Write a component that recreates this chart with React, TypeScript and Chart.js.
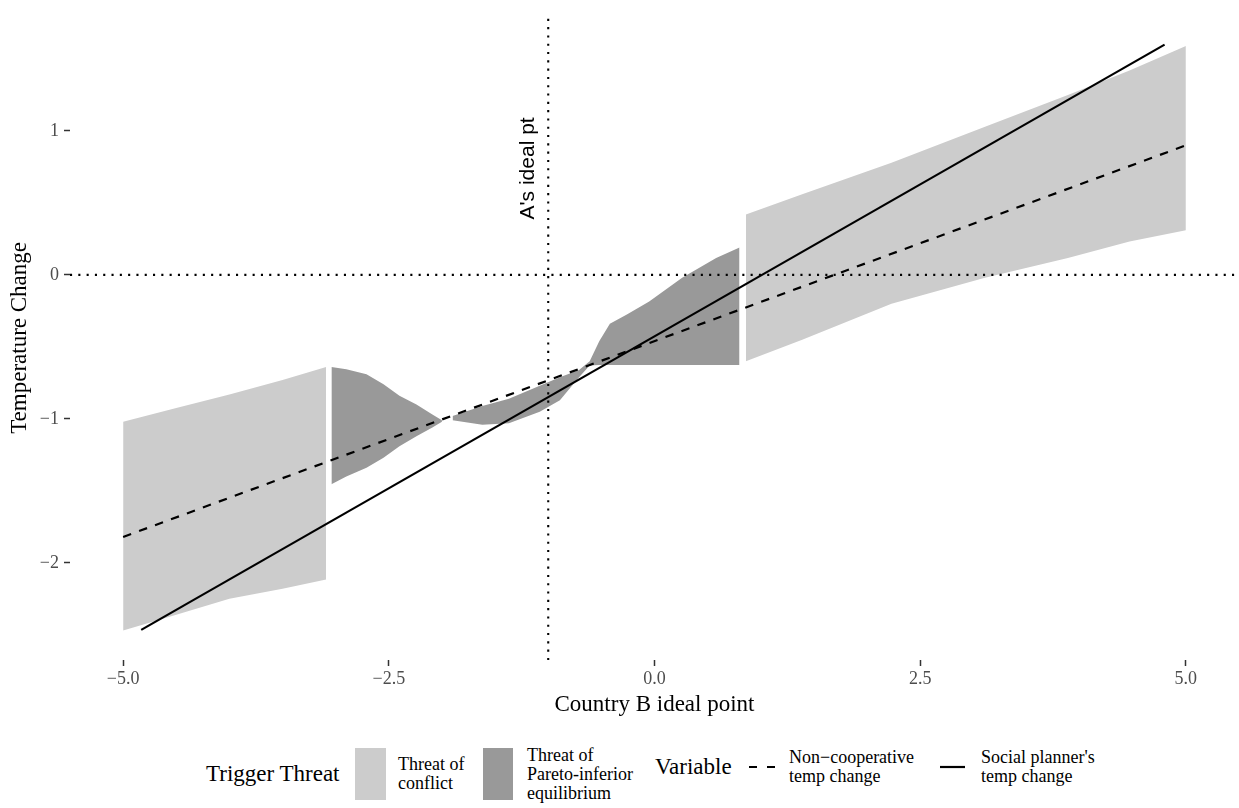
import React, { useEffect, useRef } from 'react';
import { Chart, registerables } from 'chart.js';

Chart.register(...registerables);

// ---- axis ranges and ticks ----
const xMin = -5.5;
const xMax = 5.5;
const yMin = -2.675;
const yMax = 1.8;
const xTicks = [-5, -2.5, 0, 2.5, 5];
const xTickLabels = ['\u22125.0', '\u22122.5', '0.0', '2.5', '5.0'];
const yTicks = [-2, -1, 0, 1];
const yTickLabels = ['\u22122', '\u22121', '0', '1'];

// ---- ribbons: Threat of conflict (left) ----
const conflictLeftX = [-5.0, -4.5, -4.0, -3.5, -3.09];
const conflictLeftHigh = [-1.02, -0.925, -0.83, -0.73, -0.64];
const conflictLeftLow = [-2.47, -2.36, -2.25, -2.18, -2.115];

// ---- ribbons: Threat of Pareto-inferior equilibrium (left piece) ----
const paretoLeftX = [-3.04, -2.9, -2.71, -2.55, -2.4, -2.24, -2.09, -2.0];
const paretoLeftHigh = [-0.64, -0.655, -0.69, -0.76, -0.84, -0.9, -0.97, -1.01];
const paretoLeftLow = [-1.455, -1.4, -1.34, -1.27, -1.19, -1.12, -1.06, -1.02];

// ---- ribbons: Threat of Pareto-inferior equilibrium (middle piece) ----
const paretoMidX = [-1.9, -1.62, -1.37, -1.08, -0.89, -0.71, -0.61, -0.52, -0.42, -0.26, -0.05, 0.26, 0.58, 0.8];
const paretoMidHigh = [-0.98, -0.91, -0.86, -0.77, -0.71, -0.66, -0.6, -0.46, -0.34, -0.275, -0.185, -0.02, 0.117, 0.19];
const paretoMidLow = [-1.01, -1.04, -1.03, -0.95, -0.87, -0.71, -0.63, -0.625, -0.625, -0.625, -0.625, -0.625, -0.625, -0.625];

// ---- ribbons: Threat of conflict (right) ----
const conflictRightX = [0.86, 1.39, 2.23, 3.11, 3.89, 4.47, 5.0];
const conflictRightHigh = [0.42, 0.56, 0.78, 1.03, 1.25, 1.42, 1.59];
const conflictRightLow = [-0.6, -0.45, -0.2, -0.02, 0.117, 0.233, 0.31];

// ---- lines ----
const nonCoopX = [-5, 5];
const nonCoopY = [-1.82, 0.9];
const plannerX = [-4.83, 4.8];
const plannerY = [-2.466, 1.6];

// ---- reference lines / annotation ----
const idealPointA = -1;
const zeroLevel = 0;
const annotText = "A's ideal pt";
const annotX = -1.19;
const annotY = 0.74;

const LIGHT = '#CCCCCC';
const DARK = '#999999';
const SERIF = "'Liberation Serif', 'Times New Roman', serif";
const SANS = "'Liberation Sans', Arial, sans-serif";

const toPts = (xs: number[], ys: number[]) => xs.map((x, i) => ({ x, y: ys[i] }));

const annotationPlugin = {
  id: 'annotText',
  afterDatasetsDraw(chart: any) {
    const { ctx, scales } = chart;
    ctx.save();
    ctx.translate(scales.x.getPixelForValue(annotX), scales.y.getPixelForValue(annotY));
    ctx.rotate(-Math.PI / 2);
    ctx.font = `21px ${SANS}`;
    ctx.fillStyle = '#000';
    ctx.textAlign = 'center';
    ctx.textBaseline = 'middle';
    ctx.fillText(annotText, 0, 0);
    ctx.restore();
  },
};

function Txt(props: { left: number; top: number; height: number; size: number; lh: number; lines: string[] }) {
  return (
    <div
      style={{
        position: 'absolute',
        left: props.left,
        top: props.top,
        height: props.height,
        display: 'flex',
        alignItems: 'center',
        fontFamily: SERIF,
        fontSize: props.size,
        lineHeight: `${props.lh}px`,
        color: '#000',
        whiteSpace: 'nowrap',
      }}
    >
      <div>
        {props.lines.map((l, i) => (
          <div key={i}>{l}</div>
        ))}
      </div>
    </div>
  );
}

export default function App() {
  const ref = useRef<HTMLCanvasElement>(null);

  useEffect(() => {
    if (!ref.current) return;
    const datasets: any[] = [];
    const lineBase = { pointRadius: 0, fill: false, tension: 0, borderColor: '#000000' };
    datasets.push({ ...lineBase, label: "Social planner's temp change", data: toPts(plannerX, plannerY), borderWidth: 2.2, order: 0 });
    datasets.push({ ...lineBase, label: 'Non-cooperative temp change', data: toPts(nonCoopX, nonCoopY), borderWidth: 2.2, borderDash: [8.5, 8.5], order: 0 });
    datasets.push({ ...lineBase, label: 'zero', data: [{ x: xMin, y: zeroLevel }, { x: xMax, y: zeroLevel }], borderWidth: 2.1, borderDash: [2.1, 6.2], order: 0 });
    datasets.push({ ...lineBase, label: 'ideal', data: [{ x: idealPointA, y: yMin }, { x: idealPointA, y: yMax }], borderWidth: 2.1, borderDash: [2.1, 6.2], order: 0 });

    const ribbons = [
      { x: conflictLeftX, hi: conflictLeftHigh, lo: conflictLeftLow, color: LIGHT },
      { x: paretoLeftX, hi: paretoLeftHigh, lo: paretoLeftLow, color: DARK },
      { x: paretoMidX, hi: paretoMidHigh, lo: paretoMidLow, color: DARK },
      { x: conflictRightX, hi: conflictRightHigh, lo: conflictRightLow, color: LIGHT },
    ];
    ribbons.forEach((r) => {
      const loIndex = datasets.length;
      datasets.push({ data: toPts(r.x, r.lo), borderColor: 'rgba(0,0,0,0)', borderWidth: 0, pointRadius: 0, fill: false, order: 1 });
      datasets.push({ data: toPts(r.x, r.hi), borderColor: 'rgba(0,0,0,0)', borderWidth: 0, pointRadius: 0, fill: loIndex, backgroundColor: r.color, order: 1 });
    });

    const chart = new Chart(ref.current, {
      type: 'line',
      data: { datasets },
      plugins: [annotationPlugin],
      options: {
        animation: false,
        responsive: false,
        maintainAspectRatio: false,
        devicePixelRatio: 1,
        layout: { padding: { top: 8, left: 0, right: 0, bottom: 0 } },
        plugins: {
          legend: { display: false },
          tooltip: { enabled: false },
          filler: { propagate: false },
        },
        scales: {
          x: {
            type: 'linear',
            min: xMin,
            max: xMax,
            afterBuildTicks: (s: any) => {
              s.ticks = xTicks.map((v) => ({ value: v }));
            },
            afterFit: (s: any) => {
              s.height = 70;
            },
            ticks: {
              callback: (_v: any, i: number) => xTickLabels[i],
              font: { family: SERIF, size: 18 },
              color: '#4D4D4D',
              padding: 2,
              maxRotation: 0,
              autoSkip: false,
            },
            grid: { drawOnChartArea: false, drawTicks: true, tickLength: 6, tickColor: '#333333', tickWidth: 1.5 },
            border: { display: false },
            title: {
              display: true,
              text: 'Country B ideal point',
              font: { family: SERIF, size: 23 },
              color: '#000',
              padding: { top: 0, bottom: 11 },
            },
          },
          y: {
            type: 'linear',
            min: yMin,
            max: yMax,
            afterBuildTicks: (s: any) => {
              s.ticks = yTicks.map((v) => ({ value: v }));
            },
            afterFit: (s: any) => {
              s.width = 70;
            },
            ticks: {
              callback: (_v: any, i: number) => yTickLabels[i],
              font: { family: SERIF, size: 18 },
              color: '#4D4D4D',
              padding: 5,
              autoSkip: false,
            },
            grid: { drawOnChartArea: false, drawTicks: true, tickLength: 6, tickColor: '#333333', tickWidth: 1.5 },
            border: { display: false },
            title: {
              display: true,
              text: 'Temperature Change',
              font: { family: SERIF, size: 23 },
              color: '#000',
              padding: { top: 6, bottom: 0 },
            },
          },
        },
      } as any,
    });
    return () => chart.destroy();
  }, []);

  return (
    <div style={{ position: 'absolute', left: 0, top: 0, width: 1239, height: 808, background: '#fff', overflow: 'hidden' }}>
      <canvas ref={ref} width={1239} height={730} style={{ position: 'absolute', left: 0, top: 0, display: 'block' }} />
      {/* legend: fill */}
      <Txt left={206} top={748} height={52} size={23} lh={26} lines={['Trigger Threat']} />
      <div style={{ position: 'absolute', left: 355, top: 748, width: 31, height: 52, background: LIGHT }} />
      <Txt left={398} top={748} height={52} size={18} lh={19} lines={['Threat of', 'conflict']} />
      <div style={{ position: 'absolute', left: 483, top: 748, width: 30, height: 52, background: DARK }} />
      <Txt left={527} top={748} height={52} size={18} lh={19} lines={['Threat of', 'Pareto-inferior', 'equilibrium']} />
      {/* legend: linetype */}
      <Txt left={655} top={748} height={38} size={23} lh={26} lines={['Variable']} />
      <svg style={{ position: 'absolute', left: 745, top: 757 }} width={34} height={20}>
        <line x1={4} y1={10} x2={30} y2={10} stroke="#000" strokeWidth={2.2} strokeDasharray="8 10" />
      </svg>
      <Txt left={789} top={748} height={38} size={18} lh={19} lines={['Non\u2212cooperative', 'temp change']} />
      <svg style={{ position: 'absolute', left: 936, top: 757 }} width={34} height={20}>
        <line x1={4} y1={10} x2={29} y2={10} stroke="#000" strokeWidth={2.2} />
      </svg>
      <Txt left={981} top={748} height={38} size={18} lh={19} lines={["Social planner's", 'temp change']} />
    </div>
  );
}
